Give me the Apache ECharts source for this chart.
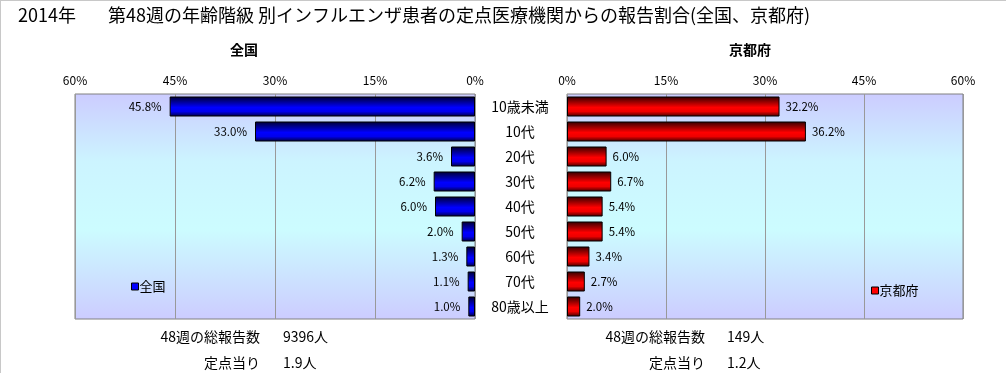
<!DOCTYPE html>
<html><head><meta charset="utf-8">
<script src="https://cdn.jsdelivr.net/npm/echarts@6/dist/echarts.min.js"></script>
<style>html,body{margin:0;padding:0;background:#fff}#c{width:1006px;height:373px}</style>
</head><body><div id="c"></div>
<script>
const categories = ['10歳未満','10代','20代','30代','40代','50代','60代','70代','80歳以上'];
const nationalValues = [45.8, 33.0, 3.6, 6.2, 6.0, 2.0, 1.3, 1.1, 1.0];
const kyotoValues = [32.2, 36.2, 6.0, 6.7, 5.4, 5.4, 3.4, 2.7, 2.0];
const axisTicks = [0, 15, 30, 45, 60];
const nationalTotals = ['9396人', '1.9人'];
const kyotoTotals = ['149人', '1.2人'];
const totalLabels = ['48週の総報告数', '定点当り'];

const FONT = '"Noto Sans CJK JP", sans-serif';
const chart = echarts.init(document.getElementById('c'));
const bgGrad = new echarts.graphic.LinearGradient(0,0,0,1,[
  {offset:0,color:'#ccccff'},{offset:0.3,color:'#ccf4ff'},{offset:0.6,color:'#ccfcff'},{offset:1,color:'#ccccff'}]);
const blueGrad = new echarts.graphic.LinearGradient(0,0,0,1,[
  {offset:0,color:'#000030'},{offset:0.55,color:'#0000ff'},{offset:0.75,color:'#0000ee'},{offset:1,color:'#000040'}]);
const redGrad = new echarts.graphic.LinearGradient(0,0,0,1,[
  {offset:0,color:'#300000'},{offset:0.55,color:'#ff0000'},{offset:0.75,color:'#ee0000'},{offset:1,color:'#400000'}]);

function xAx(gridIndex, inverse){
  return {type:'value', gridIndex, inverse, position:'top', min:axisTicks[0], max:axisTicks[axisTicks.length-1], interval:15,
    axisLine:{show:false}, axisTick:{show:false},
    splitLine:{show:true, lineStyle:{color:'#999999', width:1}},
    axisLabel:{formatter:'{value}%', color:'#000', fontSize:12, fontFamily:FONT, margin:8}};
}
const graphics = [
  {type:'line', shape:{x1:0,y1:0.5,x2:1006,y2:0.5}, style:{stroke:'#c8c8c8', lineWidth:1}},
  {type:'line', shape:{x1:0.5,y1:0,x2:0.5,y2:373}, style:{stroke:'#c8c8c8', lineWidth:1}},
  {type:'text', x:18, y:15, style:{text:'2014年', font:'18px '+FONT, fill:'#000', verticalAlign:'middle'}},
  {type:'text', x:108, y:15, style:{text:'第48週の年齢階級 別インフルエンザ患者の定点医療機関からの報告割合(全国、京都府)', font:'18px '+FONT, fill:'#000', verticalAlign:'middle'}},
  {type:'text', x:244, y:50, style:{text:'全国', font:'bold 14px '+FONT, fill:'#000', align:'center', verticalAlign:'middle'}},
  {type:'text', x:750, y:50, style:{text:'京都府', font:'bold 14px '+FONT, fill:'#000', align:'center', verticalAlign:'middle'}}
];
[[260,283,nationalTotals],[705,727,kyotoTotals]].forEach(([re,vl,vals])=>{
  [337,363].forEach((y,i)=>{
    graphics.push({type:'text', x:re, y:y, style:{text:totalLabels[i], font:'14px '+FONT, fill:'#000', align:'right', verticalAlign:'middle'}});
    graphics.push({type:'text', x:vl, y:y, style:{text:vals[i], font:'14px '+FONT, fill:'#000', align:'left', verticalAlign:'middle'}});
  });
});

chart.setOption({
  animation:false,
  textStyle:{fontFamily:FONT},
  grid:[
    {left:75, top:94, width:400, height:225, show:true, backgroundColor:bgGrad, borderColor:'#808080', borderWidth:1, containLabel:false},
    {left:567, top:94, width:396, height:225, show:true, backgroundColor:bgGrad, borderColor:'#808080', borderWidth:1, containLabel:false}
  ],
  xAxis:[xAx(0,true), xAx(1,false)],
  yAxis:[
    {type:'category', gridIndex:0, data:categories, inverse:true, position:'right',
      axisLine:{show:false}, axisTick:{show:false},
      axisLabel:{align:'center', margin:45, fontSize:14, color:'#000', fontFamily:FONT}},
    {type:'category', gridIndex:1, data:categories, inverse:true,
      axisLine:{show:false}, axisTick:{show:false}, axisLabel:{show:false}}
  ],
  legend:[
    {data:[{name:'全国', itemStyle:{color:'#0000ff', borderColor:'#000', borderWidth:1}}], left:131, top:280, padding:0,
      itemWidth:7, itemHeight:7, icon:'rect', itemGap:0, textStyle:{fontSize:13, color:'#000', fontFamily:FONT, padding:[0,0,0,-4]}},
    {data:[{name:'京都府', itemStyle:{color:'#ff0000', borderColor:'#000', borderWidth:1}}], left:871, top:284, padding:0,
      itemWidth:7, itemHeight:7, icon:'rect', itemGap:0, textStyle:{fontSize:13, color:'#000', fontFamily:FONT, padding:[0,0,0,-4]}}
  ],
  series:[
    {name:'全国', type:'bar', xAxisIndex:0, yAxisIndex:0, data:nationalValues, barWidth:20,
      itemStyle:{color:blueGrad, borderColor:'#000', borderWidth:1},
      label:{show:true, position:'left', distance:8, fontSize:11.5, color:'#000', fontFamily:FONT,
        formatter:p=>p.value.toFixed(1)+'%'}},
    {name:'京都府', type:'bar', xAxisIndex:1, yAxisIndex:1, data:kyotoValues, barWidth:20,
      itemStyle:{color:redGrad, borderColor:'#000', borderWidth:1},
      label:{show:true, position:'right', distance:6, fontSize:11.5, color:'#000', fontFamily:FONT,
        formatter:p=>p.value.toFixed(1)+'%'}}
  ],
  graphic:graphics
});
</script></body></html>
